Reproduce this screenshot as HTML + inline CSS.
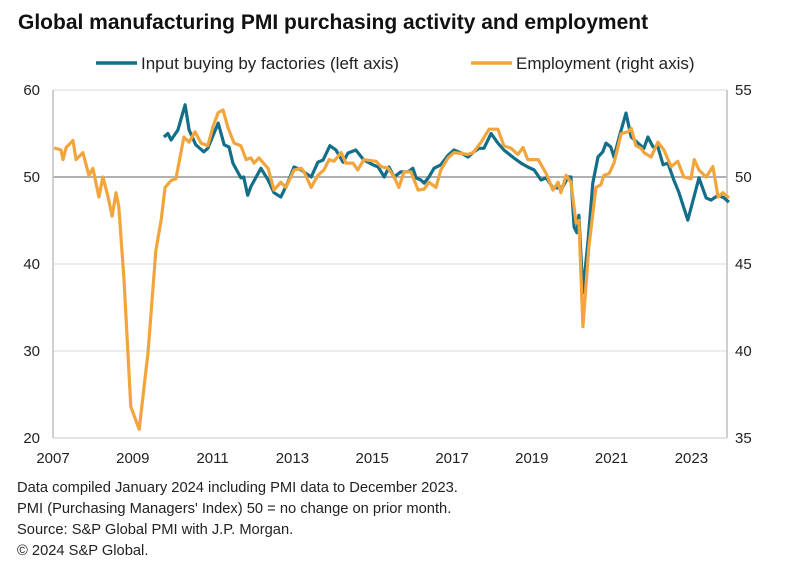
<!DOCTYPE html>
<html><head><meta charset="utf-8"><style>
body{margin:0;background:#fff;}
svg{display:block;font-family:"Liberation Sans",Arial,sans-serif;}
</style></head><body>
<svg id="chart" width="790" height="580" viewBox="0 0 790 580">
<text x="18" y="29" font-size="21" font-weight="bold" fill="#111">Global manufacturing PMI purchasing activity and employment</text>
<g>
<line x1="96" y1="63" x2="137" y2="63" stroke="#136f89" stroke-width="3.5"/>
<text x="141" y="69" font-size="17" fill="#222">Input buying by factories (left axis)</text>
<line x1="471" y1="63" x2="512" y2="63" stroke="#f2a53c" stroke-width="3.5"/>
<text x="516" y="69" font-size="17" fill="#222">Employment (right axis)</text>
</g>
<g id="grid"></g>
<g id="axes"></g>
<g id="series"></g>
<g font-size="14.7" fill="#222">
<text x="17" y="492">Data compiled January 2024 including PMI data to December 2023.</text>
<text x="17" y="513">PMI (Purchasing Managers' Index) 50 = no change on prior month.</text>
<text x="17" y="534">Source: S&amp;P Global PMI with J.P. Morgan.</text>
<text x="17" y="555">© 2024 S&amp;P Global.</text>
</g>
</svg>
<script>
const leftTicks=[20,30,40,50,60];
const rightTicks=[35,40,45,50,55];
const xTicks=[2007,2009,2011,2013,2015,2017,2019,2021,2023];
const empDates=[2007.03,2007.20,2007.25,2007.33,2007.50,2007.58,2007.75,2007.90,2008.00,2008.15,2008.25,2008.38,2008.48,2008.58,2008.65,2008.78,2008.95,2009.16,2009.38,2009.58,2009.71,2009.81,2009.96,2010.08,2010.28,2010.41,2010.56,2010.71,2010.88,2011.01,2011.14,2011.26,2011.39,2011.54,2011.71,2011.84,2011.96,2012.04,2012.16,2012.39,2012.54,2012.71,2012.84,2013.04,2013.22,2013.29,2013.47,2013.64,2013.79,2013.92,2014.04,2014.22,2014.34,2014.52,2014.64,2014.79,2015.10,2015.22,2015.40,2015.55,2015.67,2015.80,2015.97,2016.15,2016.30,2016.42,2016.60,2016.72,2016.90,2017.05,2017.23,2017.40,2017.53,2017.73,2017.93,2018.15,2018.30,2018.48,2018.65,2018.78,2018.90,2019.06,2019.16,2019.36,2019.53,2019.66,2019.73,2019.86,2019.98,2020.11,2020.18,2020.28,2020.43,2020.61,2020.73,2020.81,2020.94,2021.06,2021.24,2021.41,2021.49,2021.61,2021.74,2021.81,2021.99,2022.16,2022.31,2022.49,2022.66,2022.81,2022.99,2023.07,2023.19,2023.37,2023.54,2023.67,2023.79,2023.94];
const empValues=[51.67,51.55,51.0,51.7,52.1,51.0,51.4,50.1,50.5,48.85,50.0,48.85,47.75,49.1,48.3,44.1,36.8,35.5,39.9,45.8,47.5,49.4,49.8,49.9,52.3,52.0,52.6,51.95,51.8,52.9,53.7,53.85,52.8,51.95,51.8,51.0,51.1,50.8,51.1,50.5,49.25,49.7,49.4,50.4,50.5,50.3,49.4,50.1,50.4,51.0,50.9,51.4,50.8,50.8,50.4,51.0,50.9,50.6,50.5,50.0,49.4,50.3,50.3,49.25,49.3,49.7,49.4,50.4,51.1,51.4,51.35,51.3,51.4,52.0,52.75,52.75,51.8,51.65,51.3,51.7,51.0,51.0,51.0,50.2,49.25,49.7,49.1,50.1,49.7,47.35,47.5,41.4,46.0,49.4,49.55,50.1,50.2,50.8,52.5,52.6,52.8,51.8,51.65,51.4,51.15,52.0,51.55,50.6,50.9,50.0,49.9,51.0,50.4,50.0,50.6,48.85,49.1,48.8];
const buyDates=[2009.78,2009.88,2009.96,2010.13,2010.31,2010.41,2010.58,2010.78,2010.88,2011.14,2011.29,2011.41,2011.51,2011.71,2011.78,2011.88,2011.96,2012.21,2012.39,2012.54,2012.71,2012.88,2013.04,2013.22,2013.47,2013.64,2013.77,2013.94,2014.09,2014.27,2014.39,2014.59,2014.79,2015.02,2015.15,2015.30,2015.42,2015.55,2015.72,2015.90,2016.02,2016.10,2016.22,2016.30,2016.42,2016.55,2016.72,2016.90,2017.05,2017.23,2017.40,2017.55,2017.68,2017.80,2017.98,2018.15,2018.30,2018.55,2018.73,2018.90,2019.06,2019.23,2019.36,2019.53,2019.66,2019.78,2019.91,2019.98,2020.06,2020.13,2020.18,2020.28,2020.41,2020.53,2020.66,2020.78,2020.86,2020.98,2021.06,2021.19,2021.36,2021.49,2021.66,2021.81,2021.91,2022.04,2022.16,2022.29,2022.41,2022.56,2022.69,2022.91,2023.19,2023.37,2023.49,2023.67,2023.82,2023.94];
const buyValues=[54.6,55.0,54.25,55.4,58.3,55.4,53.7,52.9,53.3,56.2,53.7,53.45,51.6,49.9,50.0,47.9,48.9,51.0,49.65,48.2,47.7,49.3,51.15,50.8,50.0,51.7,51.95,53.6,53.1,51.7,52.75,53.1,51.95,51.4,51.15,50.0,51.15,50.0,50.6,50.6,51.0,49.9,49.65,49.3,50.0,51.0,51.4,52.5,53.1,52.75,52.3,52.9,53.3,53.3,55.0,53.9,53.1,52.2,51.6,51.15,50.8,49.65,49.9,48.75,48.75,48.9,50.0,50.0,44.25,43.6,45.6,36.7,42.75,49.3,52.3,52.9,53.9,53.45,52.3,54.6,57.35,54.6,53.9,53.3,54.6,53.45,53.45,51.4,51.6,49.65,48.2,45.05,49.9,47.6,47.35,47.9,47.6,47.1];

const NS='http://www.w3.org/2000/svg';
const L=53,R=727,T=90,B=438;
const xS=y=>L+(y-2007)*39.9;
const yL=v=>T+(60-v)*(B-T)/40;
const yR=v=>T+(55-v)*(B-T)/20;
function mk(tag,attrs,parent,txt){const e=document.createElementNS(NS,tag);for(const k in attrs)e.setAttribute(k,attrs[k]);if(txt!==undefined)e.textContent=txt;parent.appendChild(e);return e;}
const grid=document.getElementById('grid'),axes=document.getElementById('axes'),series=document.getElementById('series');
leftTicks.forEach((t,i)=>{
  const y=yL(t);
  const g=mk('line',{x1:L,x2:R,y1:y,y2:y,stroke:t===50?'#a6a6a6':'#d9d9d9','stroke-width':t===50?1.8:1},grid);
  
  
  const tl=mk('text',{x:40,y:y+5,'font-size':15,fill:'#222','text-anchor':'end'},axes,String(t));
  
  
});
rightTicks.forEach(t=>{
  const tr=mk('text',{x:735,y:yR(t)+5,'font-size':15,fill:'#222'},axes,String(t));
  
  
});
xTicks.forEach(t=>{
  const tx=mk('text',{x:xS(t),y:463,'font-size':15,fill:'#222','text-anchor':'middle'},axes,String(t));
  
  
});
const la=mk('line',{x1:L,x2:L,y1:T,y2:B,stroke:'#bfbfbf','stroke-width':1.5},axes);


const ra=mk('line',{x1:R,x2:R,y1:T,y2:B,stroke:'#bfbfbf','stroke-width':1.5},axes);


const ba=mk('line',{x1:L,x2:R,y1:B,y2:B,stroke:'#d9d9d9','stroke-width':1.5},axes);


function pts(ds,vs,ys){return ds.map((d,i)=>xS(d).toFixed(1)+','+ys(vs[i]).toFixed(1)).join(' ');}
const pb=mk('polyline',{points:pts(buyDates,buyValues,yL),fill:'none',stroke:'#136f89','stroke-width':3.2,'stroke-linejoin':'round'},series);


const pe=mk('polyline',{points:pts(empDates,empValues,yR),fill:'none',stroke:'#f2a53c','stroke-width':3.2,'stroke-linejoin':'round'},series);


</script>
</body></html>
